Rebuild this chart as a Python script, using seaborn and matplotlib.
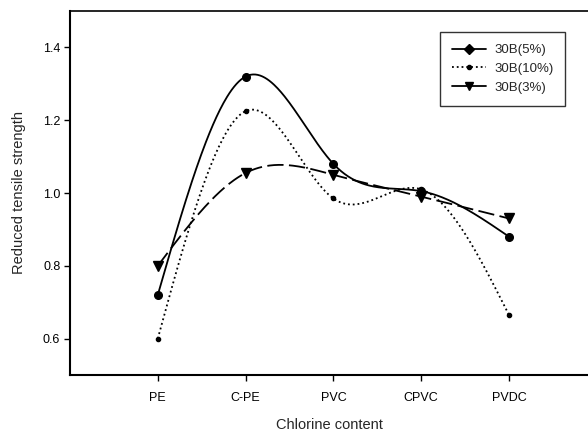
import numpy as np
import pandas as pd
import matplotlib
matplotlib.use("Agg")
import matplotlib.pyplot as plt
import seaborn as sns
from matplotlib.lines import Line2D

categories = ["PE", "C-PE", "PVC", "CPVC", "PVDC"]
s5 = [0.72, 1.32, 1.08, 1.005, 0.88]
s10 = [0.60, 1.225, 0.985, 1.01, 0.665]
s3 = [0.80, 1.055, 1.05, 0.99, 0.93]
series_names = ["30B(5%)", "30B(10%)", "30B(3%)"]


def natural_spline(x, y, xs):
    x = np.asarray(x, float); y = np.asarray(y, float)
    n = len(x)
    h = np.diff(x)
    A = np.zeros((n, n)); b = np.zeros(n)
    A[0, 0] = A[-1, -1] = 1
    for i in range(1, n - 1):
        A[i, i - 1] = h[i - 1]; A[i, i] = 2 * (h[i - 1] + h[i]); A[i, i + 1] = h[i]
        b[i] = 3 * ((y[i + 1] - y[i]) / h[i] - (y[i] - y[i - 1]) / h[i - 1])
    c = np.linalg.solve(A, b)
    out = np.empty_like(xs)
    for k, xv in enumerate(xs):
        i = min(max(np.searchsorted(x, xv) - 1, 0), n - 2)
        dx = xv - x[i]
        bi = (y[i + 1] - y[i]) / h[i] - h[i] * (2 * c[i] + c[i + 1]) / 3
        di = (c[i + 1] - c[i]) / (3 * h[i])
        out[k] = y[i] + bi * dx + c[i] * dx ** 2 + di * dx ** 3
    return out


sns.set_style("ticks")
plt.rcParams['font.family'] = ['Liberation Sans', 'DejaVu Sans']

fig = plt.figure(figsize=(5.88, 4.33), dpi=100)
ax = fig.add_axes([70 / 588, 1 - 375 / 433, (588 - 70) / 588, (375 - 11) / 433])

xpos = np.arange(len(categories))
xs = np.linspace(0, len(categories) - 1, 300)
styles = [
    dict(ls="-", marker="o", ms=5.5, dashes=None),
    dict(ls=":", marker="o", ms=3, dashes=None),
    dict(ls="--", marker="v", ms=6.5, dashes=(9, 3)),
]
for name, vals, st in zip(series_names, [s5, s10, s3], styles):
    curve = pd.DataFrame({"x": xs, "y": natural_spline(xpos, vals, xs)})
    sns.lineplot(data=curve, x="x", y="y", ax=ax, color="black", lw=1.3,
                 linestyle=st["ls"], label=None)
    l = ax.lines[-1]
    if st["dashes"]:
        l.set_dashes(st["dashes"])
    pts = pd.DataFrame({"x": xpos, "y": vals})
    ax.plot(pts["x"], pts["y"], linestyle="none", marker=st["marker"], ms=st["ms"],
            color="black")

handles = [
    Line2D([], [], color="black", ls="-", marker="D", ms=5, lw=1.3),
    Line2D([], [], color="black", ls=":", marker="o", ms=3, lw=1.3),
    Line2D([], [], color="black", ls="-", marker="v", ms=6, lw=1.3),
]
leg = ax.legend(handles, series_names, loc="upper right", bbox_to_anchor=(0.956, 0.942),
                borderaxespad=0, frameon=True, fancybox=False, edgecolor="black",
                fontsize=9.5, handlelength=2.6, borderpad=0.9, labelspacing=0.5,
                handletextpad=0.6)
leg.get_frame().set_linewidth(1.0)

ax.set_xlim(-1, 4.9)
ax.set_ylim(0.5, 1.5)
ax.set_xticks(xpos)
ax.set_xticklabels(categories)
ax.set_yticks([0.6, 0.8, 1.0, 1.2, 1.4])
ax.set_yticklabels(["0.6", "0.8", "1.0", "1.2", "1.4"])
ax.tick_params(axis="both", labelsize=9, length=4, width=1, colors="black")
ax.tick_params(axis="x", pad=8)
ax.tick_params(axis="y", pad=3)
ax.set_xlabel("Chlorine content", fontsize=10.5, labelpad=10)
ax.set_ylabel("Reduced tensile strength", fontsize=10.5, labelpad=12)
for s in ["left", "bottom"]:
    ax.spines[s].set_linewidth(1.5)
    ax.spines[s].set_color("black")
ax.spines["top"].set_visible(True)
ax.spines["top"].set_linewidth(1.2)
ax.spines["top"].set_color("black")
ax.spines["right"].set_visible(False)

fig.savefig("out.png", dpi=100)
